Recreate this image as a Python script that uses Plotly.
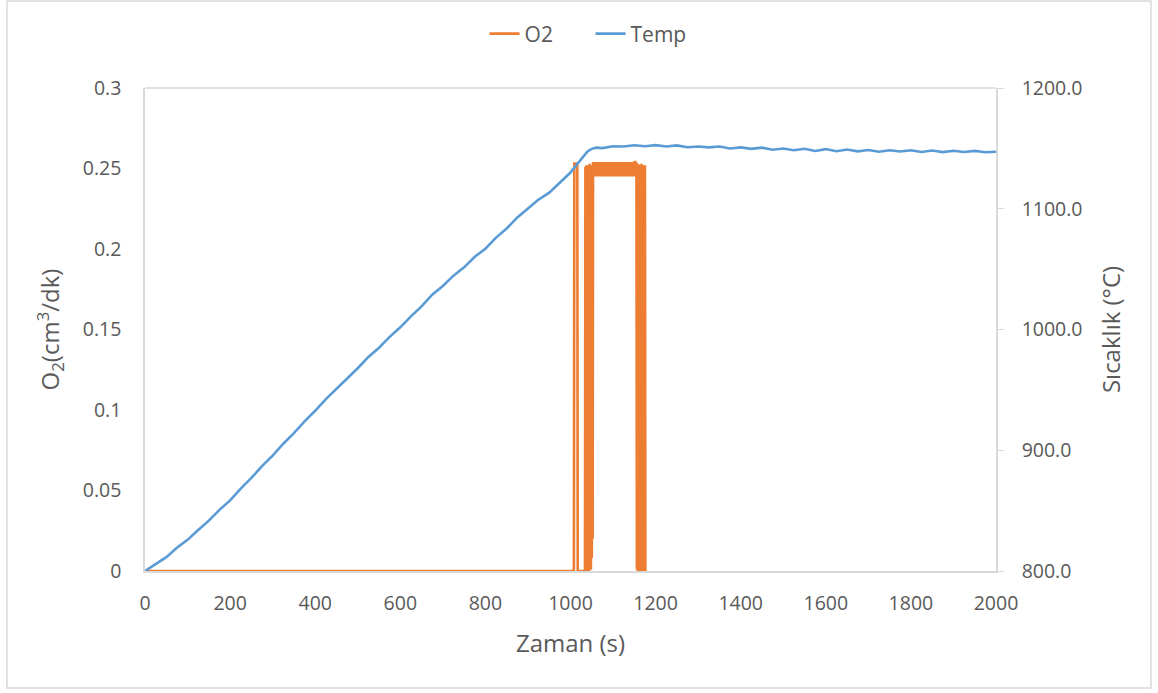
import plotly.graph_objects as go

# Temperature record (time in s, temperature in °C)
temp_time = [0, 25, 50, 75, 100, 125, 150, 175, 200, 225, 250, 275, 300, 325, 350, 375,
             400, 425, 450, 475, 500, 525, 550, 575, 600, 625, 650, 675, 700, 725, 750,
             775, 800, 825, 850, 875, 900, 925, 950, 975, 1000, 1010, 1020, 1030, 1040,
             1050, 1060, 1075, 1100, 1125, 1150, 1175, 1200, 1225, 1250, 1275, 1300,
             1325, 1350, 1375, 1400, 1425, 1450, 1475, 1500, 1525, 1550, 1575, 1600,
             1625, 1650, 1675, 1700, 1725, 1750, 1775, 1800, 1825, 1850, 1875, 1900,
             1925, 1950, 1975, 2000]
temp_vals = [800.0, 805.6, 811.5, 819.3, 825.8, 833.9, 841.7, 850.6, 858.5, 868.3, 877.1,
             886.8, 895.6, 905.4, 914.2, 923.9, 932.7, 942.4, 950.7, 959.8, 967.9, 977.3,
             984.9, 993.9, 1001.8, 1010.9, 1019.1, 1028.8, 1036.0, 1044.6, 1051.5, 1060.2,
             1066.9, 1076.1, 1083.7, 1092.8, 1099.9, 1107.6, 1113.3, 1121.3, 1130.0,
             1134.5, 1138.8, 1143.0, 1147.4, 1149.6, 1150.6, 1150.2, 1151.8, 1151.5,
             1152.6, 1151.8, 1152.7, 1151.5, 1152.5, 1150.9, 1151.6, 1150.8, 1151.5,
             1149.9, 1150.8, 1149.6, 1150.6, 1148.9, 1149.9, 1148.5, 1149.7, 1147.9,
             1149.4, 1147.6, 1149.0, 1147.5, 1148.6, 1147.2, 1148.5, 1147.4, 1148.4,
             1147.0, 1148.2, 1146.9, 1148.0, 1147.0, 1147.9, 1146.8, 1147.2]

# O2 flow record (time in s, flow in cm3/dk)
o2_time = [0, 1008, 1009, 1016, 1017, 1034, 1035, 1036, 1037, 1038, 1039, 1040, 1041,
           1042, 1043, 1044, 1045, 1046, 1047, 1048, 1049, 1050, 1051, 1052, 1053,
           1054, 1055, 1056, 1057, 1058, 1059, 1060, 1061, 1062, 1063, 1064, 1065,
           1066, 1067, 1068, 1069, 1070, 1071, 1072, 1073, 1074, 1075, 1076, 1077,
           1078, 1079, 1080, 1081, 1082, 1083, 1084, 1085, 1086, 1087, 1088, 1089,
           1090, 1091, 1092, 1093, 1094, 1095, 1096, 1097, 1098, 1099, 1100, 1101,
           1102, 1103, 1104, 1105, 1106, 1107, 1108, 1109, 1110, 1111, 1112, 1113,
           1114, 1115, 1116, 1117, 1118, 1119, 1120, 1121, 1122, 1123, 1124, 1125,
           1126, 1127, 1128, 1129, 1130, 1131, 1132, 1133, 1134, 1135, 1136, 1137,
           1138, 1139, 1140, 1141, 1142, 1143, 1144, 1145, 1146, 1147, 1148, 1149,
           1150, 1151, 1152, 1153, 1154, 1155, 1156, 1157, 1158, 1159, 1160, 1161,
           1162, 1163, 1164, 1165, 1166, 1167, 1168, 1169, 1170, 1171, 1172, 1173,
           1174, 1175, 1176, 1177, 1178, 1179, 1180, 2000]
o2_vals = [0, 0, 0.253, 0.253, 0, 0,
           0.251, 0, 0.252, 0.001, 0.250, 0, 0.252, 0.002, 0.251, 0, 0.253, 0.004,
           0.250, 0.001, 0.252, 0.008, 0.251, 0.020, 0.254,
           0.245, 0.254, 0.246, 0.254, 0.245, 0.253, 0.246, 0.254, 0.245, 0.254, 0.246,
           0.253, 0.245, 0.254, 0.246, 0.254, 0.245, 0.253, 0.246, 0.254, 0.245, 0.254,
           0.246, 0.253, 0.245, 0.254, 0.246, 0.254, 0.245, 0.253, 0.246, 0.254, 0.245,
           0.254, 0.246, 0.253, 0.245, 0.254, 0.246, 0.254, 0.245, 0.253, 0.246, 0.254,
           0.245, 0.254, 0.246, 0.253, 0.245, 0.254, 0.246, 0.254, 0.245, 0.253, 0.246,
           0.254, 0.245, 0.254, 0.246, 0.253, 0.245, 0.254, 0.246, 0.254, 0.245, 0.253,
           0.246, 0.254, 0.245, 0.254, 0.246, 0.253, 0.245, 0.254, 0.246, 0.254, 0.245,
           0.253, 0.246, 0.254, 0.245, 0.254, 0.246, 0.253, 0.245, 0.254, 0.246, 0.254,
           0.245, 0.253, 0.246, 0.254, 0.245, 0.254, 0.246, 0.253, 0.245, 0.254,
           0.254, 0.245, 0.254,
           0.252, 0.001, 0.251, 0, 0.253, 0.003, 0.250, 0, 0.252, 0.002, 0.251, 0,
           0.253, 0.004, 0.250, 0, 0.252, 0.001, 0.251, 0, 0.252, 0, 0, 0]

o2_ticks = [0, 0.05, 0.1, 0.15, 0.2, 0.25, 0.3]
temp_ticks = [800, 900, 1000, 1100, 1200]
time_ticks = [0, 200, 400, 600, 800, 1000, 1200, 1400, 1600, 1800, 2000]

ORANGE = "#ED7D31"
BLUE = "#5B9BD5"
TEXT = "#595959"
FRAME = "#D9D9D9"
FONT = "Open Sans"

fig = go.Figure()
fig.add_trace(go.Scatter(x=o2_time, y=o2_vals, name="O2", mode="lines",
                         line=dict(color=ORANGE, width=2.6), yaxis="y"))
fig.add_trace(go.Scatter(x=temp_time, y=temp_vals, name="Temp", mode="lines",
                         line=dict(color=BLUE, width=2.6), yaxis="y2"))

fig.update_layout(
    width=1158, height=693,
    margin=dict(l=145, r=162, t=88, b=122),
    paper_bgcolor="white", plot_bgcolor="white",
    font=dict(family=FONT, size=20, color=TEXT),
    showlegend=True,
    legend=dict(orientation="h", x=0.399, xanchor="left",
                yref="container", y=0.951, yanchor="middle",
                font=dict(size=21, color=TEXT), entrywidth=61, traceorder="normal"),
    xaxis=dict(range=[0, 2000], tickvals=time_ticks, showgrid=False, zeroline=False,
               showline=True, linecolor=FRAME, linewidth=1.5, ticks="",
               ticklabelstandoff=14, tickfont=dict(size=19.5),
               title=dict(text="Zaman (s)", font=dict(size=24, color=TEXT), standoff=20)),
    yaxis=dict(range=[0, 0.3], tickvals=o2_ticks, ticktext=[str(v) for v in o2_ticks],
               showgrid=False, zeroline=False, showline=True, linecolor=FRAME,
               linewidth=1.5, ticks="", ticklabelstandoff=18, tickfont=dict(size=19.5),
               title=dict(text="O<sub>2</sub>(cm<sup>3</sup>/dk)",
                          font=dict(size=24, color=TEXT), standoff=16)),
    yaxis2=dict(range=[800, 1200], tickvals=temp_ticks, tickformat=".1f",
                overlaying="y", side="right", showgrid=False, zeroline=False,
                showline=True, linecolor=FRAME, linewidth=1.5, ticks="outside",
                ticklen=6, tickcolor=FRAME, ticklabelstandoff=14,
                tickfont=dict(size=19.5),
                title=dict(text="Sıcaklık (°C)", font=dict(size=24, color=TEXT),
                           standoff=22)),
    shapes=[
        # plot-area top edge
        dict(type="line", xref="paper", yref="paper", x0=0, x1=1, y0=1, y1=1,
             line=dict(color=FRAME, width=1.5), layer="below"),
        # chart border
        dict(type="rect", xref="paper", yref="paper", x0=-0.1622, x1=1.1821,
             y0=-0.2422, y1=1.1801, line=dict(color=FRAME, width=1.5), layer="below"),
    ],
)

fig.write_html("out.html")
